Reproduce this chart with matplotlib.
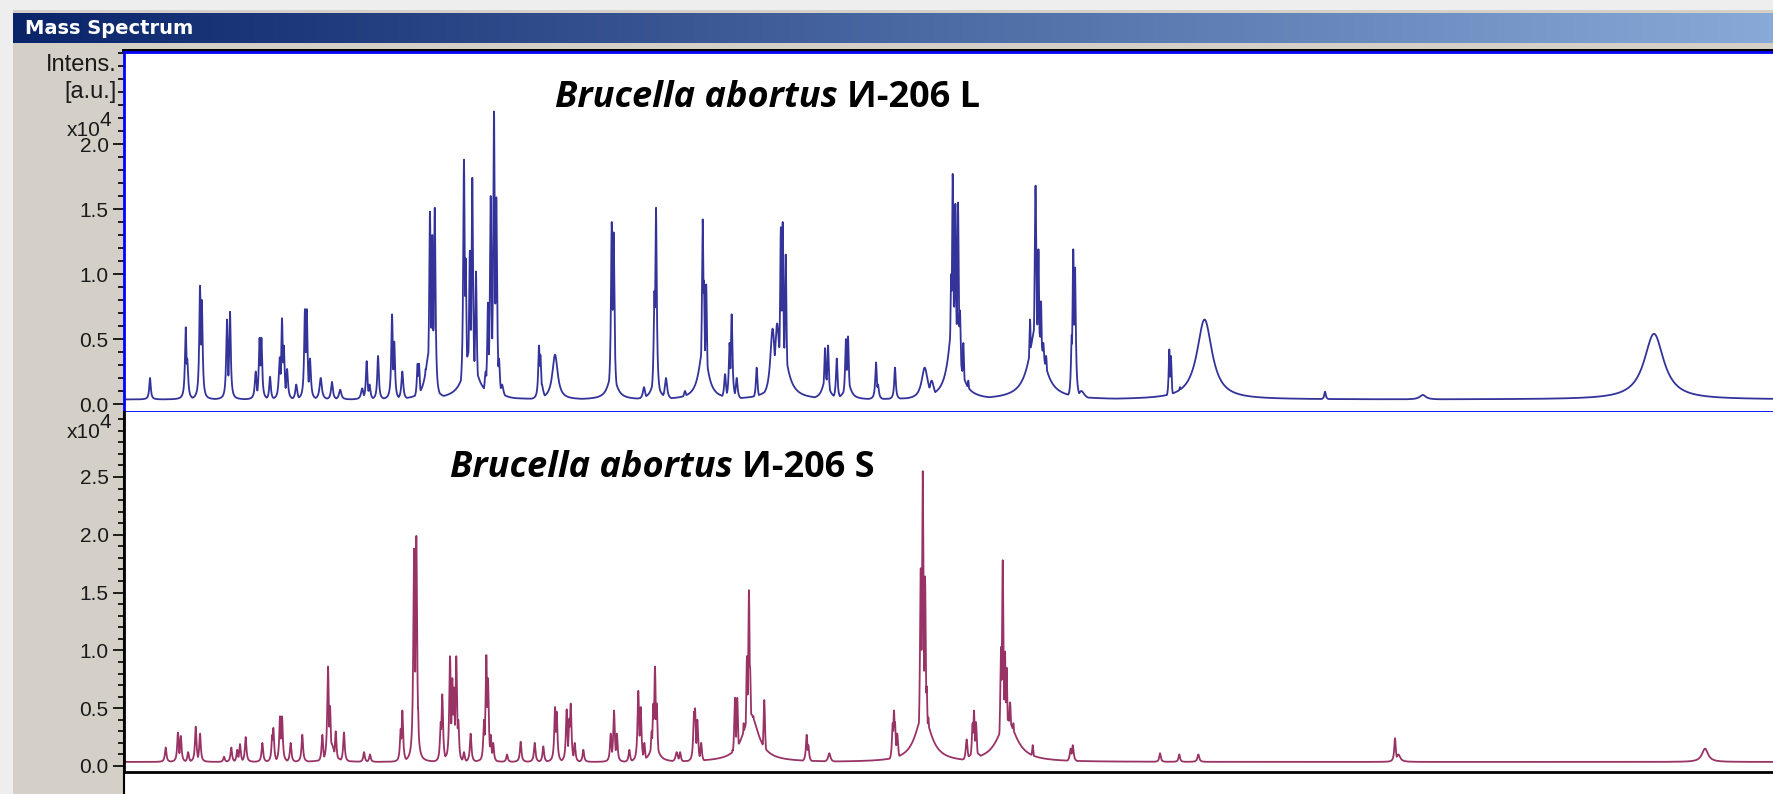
import numpy as np
import matplotlib.pyplot as plt
from matplotlib.patches import Rectangle
from matplotlib.colors import LinearSegmentedColormap
from matplotlib.ticker import FixedLocator, MultipleLocator, FormatStrFormatter

W, H = 1773, 794

# peak list: m/z, intensity (x10^4), half width (m/z)
top_mz = [2284, 2674, 2690, 2830, 2850, 3124, 3157, 3438, 3480, 3500, 3594,
          3700, 3725, 3745, 3780, 3880, 3975, 3995, 4030, 4147, 4270, 4360,
          4600, 4649, 4680, 4773, 4926, 4950, 5038, 5205, 5220, 5293, 5330,
          5340, 5365, 5392, 5700, 5711, 5730, 5775, 5802, 5842, 5780, 5948,
          5973, 6003, 6039, 6064, 6093, 6020, 6126, 6530, 6545, 6560, 6705,
          7324, 7345, 7330, 7676, 7790, 7807, 7800, 7916, 8124, 8317, 8330,
          8355, 8325, 8561, 8610, 8633, 8688, 8906, 9080, 9130, 9170, 9190,
          9223, 9180, 9652, 9685, 9660, 9780, 9880, 9903, 9900, 10209, 10230,
          10416, 10740, 10816, 11030, 11046, 11075, 11104, 11125, 11162, 11060,
          11216, 11890, 11950, 11982, 12010, 12035, 12065, 11960, 12345, 12362,
          12381, 12400, 12450, 13410, 13428, 13527, 13795, 15110, 16177, 18701]
top_int = [0.20, 0.59, 0.35, 0.91, 0.80, 0.65, 0.71, 0.25, 0.51, 0.51, 0.21,
           0.36, 0.66, 0.45, 0.27, 0.15, 0.73, 0.73, 0.35, 0.20, 0.17, 0.11,
           0.12, 0.33, 0.15, 0.37, 0.69, 0.48, 0.25, 0.31, 0.31, 0.27, 0.40,
           1.48, 1.30, 1.51, 0.33, 1.88, 1.12, 1.18, 1.74, 1.02, 0.42, 0.25,
           0.78, 1.60, 2.25, 1.59, 0.35, 0.45, 0.15, 0.45, 0.38, 0.15, 0.38,
           1.40, 1.32, 0.25, 0.13, 0.87, 1.51, 0.22, 0.20, 0.10, 1.42, 0.95,
           0.92, 0.45, 0.23, 0.47, 0.69, 0.20, 0.28, 0.58, 0.62, 1.36, 1.40,
           1.15, 0.50, 0.43, 0.45, 0.20, 0.35, 0.50, 0.52, 0.17, 0.32, 0.15,
           0.28, 0.28, 0.18, 1.00, 1.77, 1.54, 1.55, 0.72, 0.47, 0.75,
           0.18, 0.65, 1.68, 1.19, 0.79, 0.47, 0.37, 0.62, 0.53, 1.19,
           1.05, 0.17, 0.10, 0.42, 0.37, 0.13, 0.65, 0.095, 0.07, 0.54]
top_hw = [10, 10, 12, 10, 10, 10, 10, 12, 10, 10, 10,
          12, 10, 10, 12, 12, 10, 10, 12, 15, 12, 15,
          15, 10, 12, 10, 10, 10, 12, 10, 10, 12, 45,
          10, 10, 10, 15, 10, 10, 10, 10, 10, 80, 15,
          10, 10, 10, 10, 12, 40, 20, 10, 10, 20, 35,
          10, 10, 50, 15, 10, 10, 40, 15, 15, 10, 10,
          10, 55, 12, 10, 10, 12, 10, 30, 30, 10, 10,
          10, 70, 10, 10, 40, 10, 10, 10, 40, 10, 12,
          10, 40, 30, 12, 10, 10, 10, 12, 10, 60,
          10, 12, 12, 10, 10, 15, 15, 90, 10, 10,
          10, 15, 40, 8, 8, 15, 100, 10, 40, 130]
top_base = 0.035

bot_mz = [2455, 2589, 2620, 2700, 2783, 2830, 3092, 3171, 3236, 3266, 3328,
          3510, 3618, 3630, 3703, 3725, 3819, 3946, 4165, 4227, 4249, 4311,
          4401, 4260, 4620, 4685, 5020, 5038, 5166, 5191, 5210, 5180, 5457,
          5474, 5559, 5584, 5602, 5627, 5649, 5570, 5711, 5784, 5930, 5955,
          5973, 6003, 6030, 6181, 6330, 6483, 6577, 6705, 6723, 6832, 6861,
          6876, 6920, 7014, 7313, 7349, 7380, 7516, 7614, 7640, 7680, 7760,
          7778, 7796, 7815, 7790, 8033, 8070, 8222, 8233, 8258, 8300, 8643,
          8669, 8694, 8764, 8800, 8822, 8834, 8870, 8989, 8840, 9452, 9470,
          9699, 10391, 10405, 10416, 10440, 10697, 10719, 10744, 10762, 10780,
          10725, 11198, 11263, 11278, 11300, 11290, 11573, 11592, 11617, 11635,
          11672, 11708, 11640, 11919, 12333, 12356, 13309, 13519, 13727,
          15874, 15910, 19258]
bot_int = [0.16, 0.29, 0.26, 0.12, 0.34, 0.28, 0.08, 0.16, 0.14, 0.19, 0.25,
           0.20, 0.27, 0.33, 0.43, 0.43, 0.20, 0.27, 0.27, 0.86, 0.52, 0.30,
           0.29, 0.20, 0.12, 0.10, 0.32, 0.48, 1.88, 1.99, 0.50, 0.22, 0.38,
           0.62, 0.95, 0.76, 0.68, 0.95, 0.40, 0.20, 0.12, 0.28, 0.40, 0.96,
           0.76, 0.27, 0.20, 0.10, 0.21, 0.20, 0.17, 0.51, 0.47, 0.49, 0.41,
           0.54, 0.20, 0.14, 0.28, 0.48, 0.28, 0.14, 0.65, 0.51, 0.20, 0.30,
           0.54, 0.86, 0.54, 0.25, 0.12, 0.12, 0.47, 0.50, 0.40, 0.20, 0.14,
           0.59, 0.59, 0.37, 0.95, 1.52, 0.86, 0.43, 0.57, 0.45, 0.27, 0.18,
           0.11, 0.37, 0.48, 0.38, 0.28, 1.71, 2.55, 1.64, 0.69, 0.42,
           0.45, 0.23, 0.37, 0.48, 0.38, 0.12, 1.03, 1.78, 0.99, 0.85,
           0.55, 0.37, 0.40, 0.18, 0.15, 0.18, 0.11, 0.10, 0.10,
           0.24, 0.10, 0.15]
bot_hw = [10, 10, 10, 10, 10, 10, 10, 10, 10, 10, 10,
          10, 10, 10, 10, 10, 10, 10, 10, 10, 10, 10,
          10, 40, 10, 10, 10, 10, 10, 10, 8, 30, 10,
          10, 10, 10, 10, 10, 10, 40, 10, 10, 10, 10,
          10, 10, 10, 10, 10, 10, 10, 10, 10, 10, 10,
          10, 10, 10, 10, 10, 10, 10, 10, 10, 10, 10,
          10, 10, 10, 40, 15, 10, 10, 10, 10, 10, 10,
          10, 10, 10, 10, 10, 10, 15, 10, 100, 10, 10,
          15, 10, 10, 10, 12, 10, 10, 10, 10, 12,
          100, 12, 10, 10, 10, 80, 10, 10, 10, 10,
          15, 15, 120, 10, 12, 12, 10, 10, 12,
          10, 25, 40]
bot_base = 0.035


def spectrum(mz, inten, hw, base):
    x = np.sort(np.concatenate([np.linspace(2000, 20000, 7000), mz]))
    y = np.full_like(x, base)
    for m, h, w in zip(mz, inten, hw):
        y = np.maximum(y, base + (h - base) * w**2 / (w**2 + (x - m)**2))
    return x, y


fig = plt.figure(figsize=(W / 100, H / 100), dpi=100)
fig.patch.set_facecolor('#eeeeee')

# window chrome, drawn in pixel units
bg = fig.add_axes([0, 0, 1, 1])
bg.axis('off')
bg.add_patch(Rectangle((13, 10), W - 13, H - 10, color='#d4d0c8', lw=0, zorder=1))
bar = LinearSegmentedColormap.from_list('bar', ['#0a246a', '#88aad8'])
bg.imshow(np.linspace(0, 1, 256)[None, :], cmap=bar, aspect='auto',
          extent=(13, W, 43, 13), zorder=2)
bg.text(25, 29, 'Mass Spectrum', color='white', fontsize=14,
        fontweight='bold', ha='left', va='center', zorder=3)
bg.add_patch(Rectangle((122, 48.5), W - 122, 3, color='black', lw=0, zorder=2))
bg.add_patch(Rectangle((124, 412), W - 124, H - 412, color='white', lw=0, zorder=2))
bg.plot([124, 124], [412, H], color='black', lw=1.5, zorder=3)
bg.set_xlim(0, W)
bg.set_ylim(H, 0)

axfont = ['Liberation Sans', 'DejaVu Sans']
lab_col = '#1a1a1a'
bg.text(117, 65, 'Intens.', ha='right', va='center', fontsize=17,
        family=axfont, color=lab_col, zorder=3)
bg.text(117, 92, '[a.u.]', ha='right', va='center', fontsize=17,
        family=axfont, color=lab_col, zorder=3)
for y0 in (131, 433):
    bg.text(101, y0, 'x10', ha='right', va='center', fontsize=15,
            family=axfont, color=lab_col, zorder=3)
    bg.text(100, y0 - 10, '4', ha='left', va='center', fontsize=15,
            family=axfont, color=lab_col, zorder=3)

ax1 = fig.add_axes([124 / W, 1 - 412 / H, 1 - 124 / W, 360 / H])
ax2 = fig.add_axes([124 / W, 1 - 772 / H, 1 - 124 / W, 360 / H])

x1, y1 = spectrum(top_mz, top_int, top_hw, top_base)
x2, y2 = spectrum(bot_mz, bot_int, bot_hw, bot_base)
ax1.plot(x1, y1, color='#333399', lw=1.3)
ax2.plot(x2, y2, color='#993366', lw=1.3)

ax1.set_ylim(-0.0615, 2.708)
ax2.set_ylim(-0.052, 3.062)
for ax, top, spc, col in ((ax1, 2.0, ['left', 'top', 'bottom'], 'blue'),
                          (ax2, 2.5, ['left', 'bottom'], 'black')):
    ax.set_xlim(2000, 20000)
    ax.set_xticks([])
    for s in ax.spines:
        ax.spines[s].set_visible(s in spc)
        ax.spines[s].set_color(col)
        ax.spines[s].set_linewidth(2)
    ax.yaxis.set_major_locator(FixedLocator(np.arange(0, top + 0.01, 0.5)))
    ax.yaxis.set_minor_locator(MultipleLocator(0.1))
    ax.yaxis.set_major_formatter(FormatStrFormatter('%.1f'))
    ax.tick_params(axis='y', which='major', length=8, width=1.2, colors='black',
                   labelcolor=lab_col, labelsize=15, pad=3)
    ax.tick_params(axis='y', which='minor', length=4, width=1.2, colors='black')
    for lab in ax.get_yticklabels():
        lab.set_family(axfont)

# titles go on the spectrum axes so they sit above the white plot area
tfont = ['Open Sans', 'Lato', 'DejaVu Sans']
for ax, tx, ty, tail in ((ax1, 555, 107, 'И-206 L'), (ax2, 450, 477, 'И-206 S')):
    t1 = ax.text(tx, ty, 'Brucella abortus', transform=bg.transData,
                 family=tfont, fontweight='bold', fontstyle='italic',
                 fontsize=26, ha='left', va='baseline')
    ax.annotate(tail, xy=(1, 0), xycoords=t1, xytext=(9, 0),
                textcoords='offset pixels', family=tfont, fontweight='bold',
                fontsize=26, ha='left', va='bottom')

fig.savefig('out.png', dpi=100, facecolor=fig.get_facecolor())
